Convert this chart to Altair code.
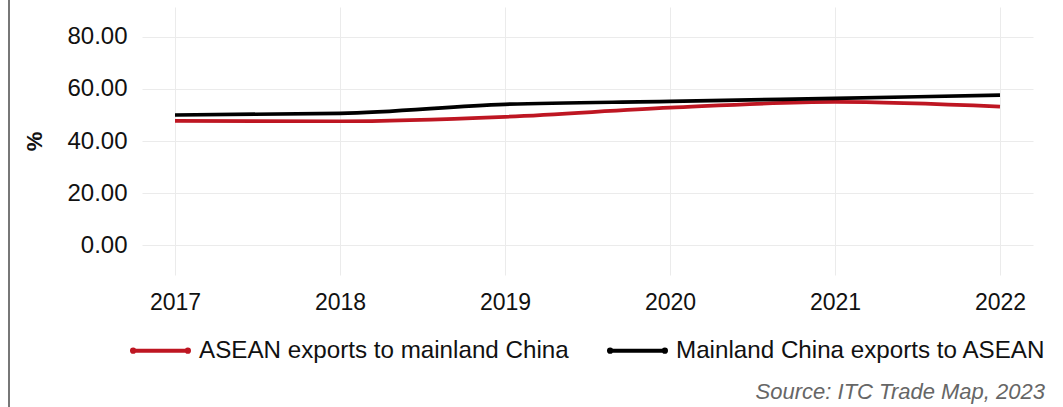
import altair as alt
import pandas as pd

years = [2017, 2018, 2019, 2020, 2021, 2022]
asean_to_china = [47.7, 47.6, 49.3, 52.8, 55.0, 53.2]
china_to_asean = [50.0, 50.6, 54.1, 55.2, 56.4, 57.6]
series_names = ["ASEAN exports to mainland China", "Mainland China exports to ASEAN"]
colors = ["#BE1622", "#000000"]
y_ticks = [0, 20, 40, 60, 80]
source_text = "Source: ITC Trade Map, 2023"

rows = []
for y, a, c in zip(years, asean_to_china, china_to_asean):
    rows.append({"year": y, "series": series_names[0], "value": a})
    rows.append({"year": y, "series": series_names[1], "value": c})
df = pd.DataFrame(rows)

FONT = "Liberation Sans"
legend_symbol = ("M-1,0H1"
                 "M-1,0a0.04,0.04 0 1,0 0.08,0a0.04,0.04 0 1,0 -0.08,0"
                 "M0.92,0a0.04,0.04 0 1,0 0.08,0a0.04,0.04 0 1,0 -0.08,0")

lines = alt.Chart(df).mark_line(strokeWidth=3.7, interpolate="monotone").encode(
    x=alt.X("year:Q",
            scale=alt.Scale(domain=[2016.8, 2022.2], nice=False, zero=False),
            axis=alt.Axis(values=years, format="d", title=None, domain=False, ticks=False,
                          labelPadding=16, labelFontSize=23, labelColor="#111111",
                          gridColor="#ebebeb", labelFont=FONT)),
    y=alt.Y("value:Q",
            scale=alt.Scale(domain=[-11.5, 91.5], nice=False, zero=False),
            axis=alt.Axis(values=y_ticks, format=".2f", title="%", domain=False, ticks=False,
                          labelPadding=15, labelFontSize=24, labelColor="#111111",
                          gridColor="#ebebeb", titleFontSize=22, titleFontWeight="bold",
                          titlePadding=20, titleColor="#111111", labelFont=FONT, titleFont=FONT)),
    color=alt.Color("series:N",
                    scale=alt.Scale(domain=series_names, range=colors),
                    legend=alt.Legend(title=None, orient="none", legendX=-12, legendY=313,
                                      direction="horizontal", symbolType=legend_symbol,
                                      symbolSize=3249, symbolStrokeWidth=4,
                                      labelFontSize=24.2, labelFont=FONT, labelColor="#111111",
                                      labelLimit=600, columnPadding=32, labelOffset=8)),
)

source = alt.Chart(pd.DataFrame({"t": [source_text]})).mark_text(
    align="right", baseline="middle", fontStyle="italic", fontSize=22, color="#666666", font=FONT
).encode(x=alt.value(903), y=alt.value(385), text="t:N")

border = alt.Chart(pd.DataFrame({"a": [0]})).mark_rule(color="#777777", strokeWidth=2).encode(
    x=alt.value(-133), y=alt.value(-7), y2=alt.value(400)
)

chart = alt.layer(lines, source, border).properties(
    width=891, height=268,
    background="white",
    autosize=alt.AutoSizeParams(type="none"),
    padding={"left": 142, "top": 7, "right": 30, "bottom": 132},
).configure_view(strokeWidth=0, stroke="transparent")

chart.save("out.html", embed_options={"renderer": "svg", "actions": False})
